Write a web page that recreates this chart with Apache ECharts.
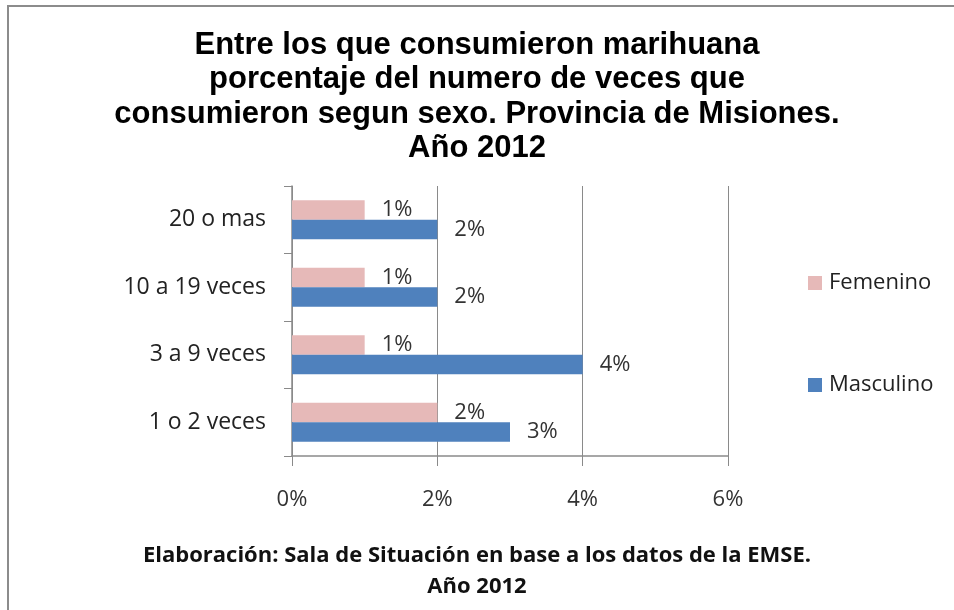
<!DOCTYPE html>
<html>
<head>
<meta charset="utf-8">
<script src="https://cdn.jsdelivr.net/npm/echarts@6/dist/echarts.min.js"></script>
<style>
html,body{margin:0;padding:0;background:#fff;}
#chart{width:954px;height:610px;}
</style>
</head>
<body>
<div id="chart"></div>
<script>
const categories = ['1 o 2 veces', '3 a 9 veces', '10 a 19 veces', '20 o mas'];
const femenino = [2, 1, 1, 1];
const masculino = [3, 4, 2, 2];
const xTicks = [0, 2, 4, 6];
const titleText = 'Entre los que consumieron marihuana\nporcentaje del numero de veces que\nconsumieron segun sexo. Provincia de Misiones.\nAño 2012';
const footerText = 'Elaboración: Sala de Situación en base a los datos de la EMSE.\nAño 2012';

const chart = echarts.init(document.getElementById('chart'));
const labelFont = '"Open Sans", Lato, sans-serif';
const labelStyle = {
  show: true, position: 'right', distance: 17,
  formatter: '{c}%', fontFamily: labelFont, fontSize: 22, color: '#333'
};
chart.setOption({
  animation: false,
  graphic: [
    { type: 'rect', shape: { x: 8, y: 6, width: 1000, height: 700 },
      style: { fill: 'none', stroke: '#8c8c8c', lineWidth: 2 }, z: 100 },
    { type: 'text', left: 'center', top: 540,
      style: { text: footerText, font: 'bold 22px "Open Sans", Lato, sans-serif', fill: '#111', textAlign: 'center', lineHeight: 31 } }
  ],
  title: {
    text: titleText, left: 'center', top: 23,
    textStyle: { fontFamily: '"Liberation Sans", Arial, sans-serif', fontWeight: 'bold', fontSize: 31, lineHeight: 34.5, color: '#000' }
  },
  legend: {
    orient: 'vertical', left: 803, top: 267,
    itemWidth: 14, itemHeight: 14, itemGap: 80,
    data: ['Femenino', 'Masculino'],
    textStyle: { fontFamily: labelFont, fontSize: 22, color: '#222', padding: [0, 0, 0, 2] },
    icon: 'rect'
  },
  grid: { left: 292, right: 226, top: 186, bottom: 154, containLabel: false },
  xAxis: {
    type: 'value', min: xTicks[0], max: xTicks[xTicks.length - 1], interval: 2,
    axisLine: { show: true, lineStyle: { color: '#8a8a8a', width: 1.5 } },
    axisTick: { show: true, length: 10, lineStyle: { color: '#8a8a8a' } },
    splitLine: { show: true, lineStyle: { color: '#8a8a8a', width: 1 } },
    axisLabel: { formatter: '{value}%', margin: 33, fontFamily: labelFont, fontSize: 22, color: '#333' }
  },
  yAxis: {
    type: 'category', data: categories,
    axisLine: { show: true, lineStyle: { color: '#8a8a8a', width: 1.5 } },
    axisTick: { show: true, length: 8, lineStyle: { color: '#8a8a8a' } },
    axisLabel: { margin: 26, fontFamily: labelFont, fontSize: 23, color: '#222' }
  },
  series: [
    { name: 'Femenino', type: 'bar', data: femenino, itemStyle: { color: '#E6B9B8' },
      barGap: '0%', barCategoryGap: '42%', label: labelStyle },
    { name: 'Masculino', type: 'bar', data: masculino, itemStyle: { color: '#4F81BD' },
      barGap: '0%', barCategoryGap: '42%', label: labelStyle }
  ]
});
</script>
</body>
</html>
